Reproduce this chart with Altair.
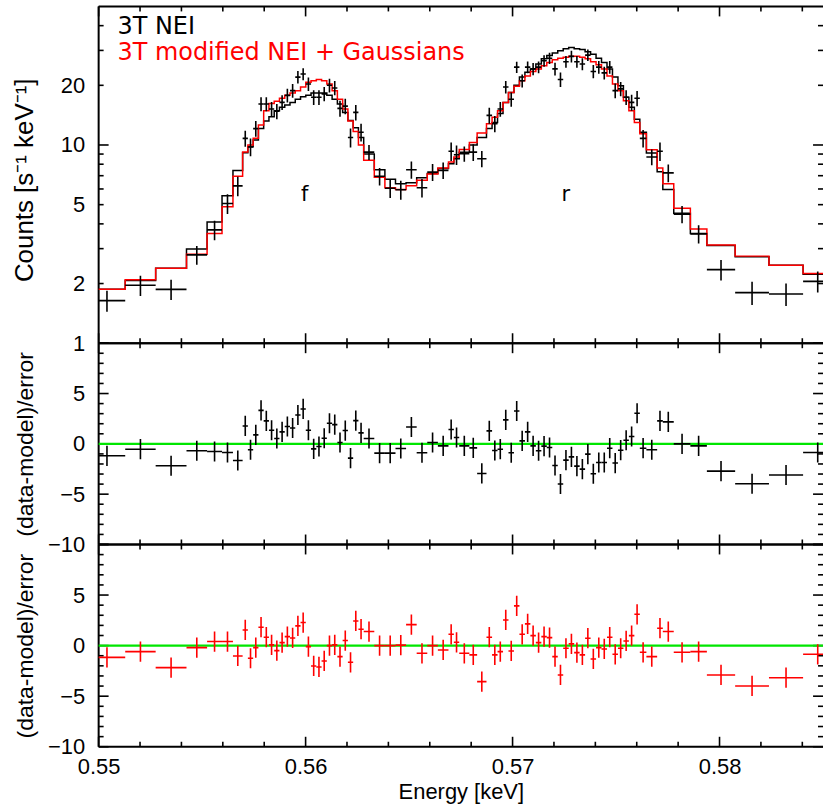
import altair as alt
import pandas as pd

# ---------------- data ----------------
# bin edges in keV (81 bins)
edges = [0.54952, 0.551284, 0.552755, 0.554245, 0.55524, 0.555962, 0.55649,
         0.556957, 0.557211, 0.557466, 0.55772, 0.557974, 0.558229, 0.558483, 0.558737,
         0.558992, 0.559246, 0.5595, 0.559755, 0.560009, 0.560263, 0.560518, 0.560772,
         0.561026, 0.561281, 0.561535, 0.561789, 0.562044, 0.562298, 0.562552, 0.562807,
         0.563319, 0.563831, 0.564343, 0.564855, 0.565367, 0.565879, 0.566391, 0.566903,
         0.567163, 0.567423, 0.567913, 0.568288, 0.56874, 0.56901,
         0.569274, 0.569539, 0.569803, 0.570068, 0.570332, 0.570597, 0.570861, 0.571125,
         0.57139, 0.571654, 0.571919, 0.572183, 0.572447, 0.572712, 0.572976, 0.573241,
         0.573505, 0.57377, 0.574034, 0.574298, 0.574563, 0.574827, 0.575092, 0.575356,
         0.57562, 0.575885, 0.576149,
         0.576466, 0.576986, 0.57726, 0.577788, 0.578591, 0.579389, 0.580755, 0.582389,
         0.584038, 0.585452]

counts = [1.64, 1.96, 1.87, 2.79, 3.73, 5.07, 6.22,
          10.8, 9.77, 12.1, 16.1, 16.1, 15.2, 14.8, 16.4, 17.8, 18.8, 22.0, 22.8,
          20.3, 17.4, 17.4, 18.1, 20.0, 19.4, 15.3, 15.7, 10.9, 14.6, 11.6,
          9.2, 6.95, 6.05, 5.95, 7.5, 6.08, 7.3, 7.45,
          9.3, 8.93, 9.03, 9.2, 8.53, 14.1,
          12.8, 15.2, 19.6, 17.0, 24.7, 21.1, 24.7, 24.2, 24.7, 26.6,
          27.4, 24.2, 21.4, 26.3, 28.0, 26.3, 25.6, 28.4, 23.5, 24.7,
          23.1, 24.7, 18.8, 19.2, 17.4, 16.4, 17.2,
          10.8, 8.7, 9.3, 7.23, 4.48, 3.56, 2.35, 1.80, 1.77, 2.05]

count_err = [0.20, 0.23, 0.22, 0.30, 0.42, 0.58, 0.70,
             1.0, 1.0, 1.1, 1.3, 1.3, 1.3, 1.3, 1.4, 1.4, 1.5, 1.6, 1.6,
             1.6, 1.5, 1.5, 1.5, 1.6, 1.6, 1.4, 1.4, 1.2, 1.3, 1.2,
             0.8, 0.7, 0.65, 0.65, 0.75, 0.65, 0.72, 0.72,
             1.0, 1.0, 0.8, 0.9, 0.8, 1.3,
             1.2, 1.3, 1.4, 1.4, 1.6, 1.6, 1.7, 1.7, 1.7, 1.8,
             1.8, 1.8, 1.8, 1.8, 1.9, 1.8, 1.8, 1.9, 1.8, 1.8,
             1.7, 1.8, 1.6, 1.6, 1.5, 1.5, 1.5,
             1.1, 0.8, 1.0, 0.75, 0.45, 0.38, 0.28, 0.24, 0.23, 0.25]

model_nei = [1.87, 2.07, 2.39, 2.99, 4.09, 5.55, 7.43,
             9.14, 9.8, 10.6, 12.1, 13.2, 13.9, 14.9, 15.5, 15.9, 16.4, 17.0, 17.5,
             17.8, 18.3, 18.3, 18.3, 17.8, 17.0, 16.1, 14.6, 13.3, 12.2, 10.9,
             9.0, 7.5, 6.71, 6.38, 6.45, 6.83, 7.18, 7.6,
             8.05, 8.53, 9.2, 10.0, 10.9, 12.1,
             13.0, 14.4, 16.4, 18.4, 20.0, 22.0, 23.3, 24.2, 25.6, 27.2,
             28.3, 29.1, 29.9, 30.6, 31.0, 30.6, 30.3, 29.5, 28.7, 27.4,
             26.1, 24.2, 22.0, 19.9, 17.4, 15.5, 13.5,
             11.6, 9.1, 7.32, 5.96, 4.52, 3.58, 3.11, 2.73, 2.47, 2.23]

model_mod = [1.87, 2.09, 2.39, 2.81, 3.58, 4.88, 6.96,
             9.22, 10.0, 10.8, 12.6, 14.9, 16.2, 16.6, 17.2, 17.8, 18.3, 18.8, 19.6,
             20.7, 21.1, 21.4, 21.1, 20.3, 18.8, 17.0, 15.2, 13.2, 11.7, 10.0,
             8.37, 6.88, 6.08, 5.96, 6.22, 6.64, 7.13, 7.65,
             8.2, 8.7, 9.5, 10.3, 11.5, 12.8,
             13.8, 14.9, 16.4, 18.4, 19.8, 21.1, 22.3, 23.5, 24.2, 25.1,
             26.1, 26.9, 27.4, 27.7, 28.0, 28.0, 27.7, 27.2, 26.3, 25.4,
             24.2, 22.3, 20.3, 18.8, 16.7, 14.9, 13.0,
             11.4, 9.46, 7.66, 6.37, 4.79, 3.77, 3.13, 2.75, 2.47, 2.25]

resid_nei = [-1.19, -0.53, -2.18, -0.69, -0.76, -0.86, -1.65,
             1.78, -0.59, 0.89, 3.33, 2.28, 1.35, 0.53, 1.19, 1.72, 1.58, 2.87, 3.47,
             1.35, -0.5, -0.26, 0.56, 2.05, 1.91, 0.13, 1.32, -1.42, 2.31, 1.09,
             0.53, -0.92, -0.92, -0.46, 1.68, -0.89, 0.13, -0.2,
             1.42, 0.63, -0.2, -0.4, -2.94, 1.29,
             -0.66, -0.53, 2.38, -0.89, 3.27, 0.3, 1.19, -0.2, -0.69, -0.23,
             -0.36, -2.15, -3.99, -1.62, -1.29, -2.21, -2.51, -1.02, -2.97, -1.85,
             -1.85, -0.43, -1.91, -0.63, 0.36, 0.73, 3.04,
             -0.43, -0.59, 2.28, 2.18, 0.0, -0.2, -2.71, -3.96, -3.1, -0.86]

resid_mod = [-1.16, -0.59, -2.18, -0.2, 0.4, 0.4, -1.02,
             1.55, -1.25, -0.2, 1.82, 0.83, 0.07, -0.5, 0.3, 0.89, 0.76, 1.95, 2.28,
             -0.1, -2.01, -2.11, -1.52, 0.0, 0.07, -1.09, 0.5, -1.65, 2.44, 1.62,
             1.39, 0.0, 0.0, 0.05, 2.08, -0.76, 0.0, -0.43,
             1.12, 0.33, -0.76, -0.92, -3.56, 0.83,
             -0.92, -0.59, 2.54, -0.53, 3.93, 1.12, 2.15, 0.99, 0.3, 0.89,
             0.79, -1.09, -2.9, -0.26, 0.17, -0.69, -0.92, 0.73, -1.32, -0.2,
             -0.33, 0.83, -0.86, -0.26, 0.46, 0.99, 3.1,
             -0.66, -1.09, 1.72, 1.39, -0.66, -0.59, -2.9, -3.99, -3.17, -0.86]

legend_text = ["3T NEI", "3T modified NEI + Gaussians"]
legend_color = ["#000000", "#ff0000"]
line_names = ["f", "r"]
line_energy = [0.55995, 0.57257]
line_level = [5.2, 5.2]

x_major = [0.55, 0.56, 0.57, 0.58]
x_minor = [0.552, 0.554, 0.556, 0.558, 0.562, 0.564, 0.566, 0.568,
           0.572, 0.574, 0.576, 0.578, 0.582, 0.584]
x_labels = [0.55, 0.56, 0.57, 0.58]
top_major = [1, 10]
top_minor = [2, 3, 4, 5, 6, 7, 8, 9, 20, 30, 40]
top_labels = [1, 2, 5, 10, 20]
res_major = [-10, -5, 0, 5, 10]
res_minor = [-9, -8, -7, -6, -4, -3, -2, -1, 1, 2, 3, 4, 6, 7, 8, 9]
res_labels = [-10, -5, 0, 5]

# ---------------- layout / style ----------------
W = 727
H_TOP, H_MID, H_BOT = 338, 202, 203
FONT = "Liberation Sans"
BLACK = "#000000"
RED = "#ff0000"
GREEN = "#00e600"

xscale = alt.Scale(domain=[0.55, 0.585], nice=False, zero=False)
ytop_scale = alt.Scale(type="log", domain=[1, 50], nice=False)
yres_scale = alt.Scale(domain=[-10, 10], nice=False, zero=False)


def y_axis(values, fmt, title, H, tsize, ty):
    return alt.Axis(values=values, format=fmt, title=title, ticks=False, tickSize=0,
                    domain=False, grid=False, labelPadding=14, labelFont=FONT,
                    labelFontSize=22, labelColor=BLACK, labelOverlap=False,
                    titleFont=FONT, titleFontSize=tsize, titleFontWeight="normal",
                    titleColor=BLACK, titleAngle=270, titleAlign="center",
                    titleBaseline="alphabetic", titleX=-66, titleY=ty)


ytop_axis = y_axis(top_labels, "~g", "Counts [s\u207b\u00b9 keV\u207b\u00b9]", H_TOP, 26, H_TOP / 2 + 5)
ymid_axis = y_axis(res_labels, "d", "(data-model)/error", H_MID, 23, H_MID / 2)
ybot_axis = y_axis(res_labels, "d", "(data-model)/error", H_BOT, 23, H_BOT / 2)

xbot_axis = alt.Axis(values=x_labels, format=".2f", title="Energy [keV]", ticks=False,
                     tickSize=0, domain=False, grid=False, labelFlush=False,
                     labelPadding=27, labelBaseline="alphabetic", labelFont=FONT,
                     labelFontSize=22, labelColor=BLACK, labelOverlap=False,
                     titleFont=FONT, titleFontSize=22, titleFontWeight="normal",
                     titleColor=BLACK, titleX=W / 2, titleY=52, titleAlign="center",
                     titleBaseline="alphabetic")

# ---------------- tables ----------------
lo = edges[:-1]
hi = edges[1:]
bins = pd.DataFrame({
    "lo": lo, "hi": hi,
    "mid": [(a + b) / 2 for a, b in zip(lo, hi)],
    "cnt": counts, "err": count_err,
    "rn": resid_nei, "rm": resid_mod,
})
bins["cnt_lo"] = bins["cnt"] - bins["err"]
bins["cnt_hi"] = bins["cnt"] + bins["err"]
bins["rn_lo"] = bins["rn"] - 1
bins["rn_hi"] = bins["rn"] + 1
bins["rm_lo"] = bins["rm"] - 1
bins["rm_hi"] = bins["rm"] + 1

step_rows = []
for i in range(len(lo)):
    for j, e in enumerate((lo[i], hi[i])):
        step_rows.append({"E": e, "nei": model_nei[i], "mod": model_mod[i], "k": 2 * i + j})
steps = pd.DataFrame(step_rows)

one = pd.DataFrame({"a": [0]})
zero = pd.DataFrame({"z": [0]})


def XE(field, axis):
    return alt.X(field, type="quantitative", scale=xscale, axis=axis)


def frame_layers(H, xaxis, yscale, yaxis, ymajor, yminor):
    layers = []
    for vals, L in ((x_major, 10), (x_minor, 5)):
        base = alt.Chart(pd.DataFrame({"t": vals})).mark_rule(color=BLACK, strokeWidth=1.6)
        layers.append(base.encode(x=XE("t", xaxis), y=alt.value(H - L), y2=alt.value(H)))
        layers.append(base.encode(x=XE("t", xaxis), y=alt.value(0), y2=alt.value(L)))
    for vals, L in ((ymajor, 10), (yminor, 5)):
        base = alt.Chart(pd.DataFrame({"t": vals})).mark_rule(color=BLACK, strokeWidth=1.6)
        yy = alt.Y("t", type="quantitative", scale=yscale, axis=yaxis)
        layers.append(base.encode(y=yy, x=alt.value(0), x2=alt.value(L)))
        layers.append(base.encode(y=yy, x=alt.value(W - L), x2=alt.value(W)))
    fr = alt.Chart(one).mark_rule(color=BLACK, strokeWidth=2)
    layers.append(fr.encode(x=alt.value(0), y=alt.value(0), y2=alt.value(H)))
    layers.append(fr.encode(x=alt.value(0), x2=alt.value(W), y=alt.value(0)))
    layers.append(fr.encode(x=alt.value(0), x2=alt.value(W), y=alt.value(H)))
    return layers


# ---------------- top panel ----------------
def YT(field):
    return alt.Y(field, type="quantitative", scale=ytop_scale, axis=ytop_axis)


top_layers = frame_layers(H_TOP, None, ytop_scale, ytop_axis, top_major, top_minor)
top_layers.append(alt.Chart(steps).mark_line(color=BLACK, strokeWidth=1.5, clip=True).encode(
    x=XE("E", None), y=YT("nei"), order=alt.Order("k:Q")))
top_layers.append(alt.Chart(steps).mark_line(color=RED, strokeWidth=1.5, clip=True).encode(
    x=XE("E", None), y=YT("mod"), order=alt.Order("k:Q")))
top_layers.append(alt.Chart(bins).mark_rule(color=BLACK, strokeWidth=1.6, clip=True).encode(
    x=XE("lo", None), x2="hi", y=YT("cnt")))
top_layers.append(alt.Chart(bins).mark_rule(color=BLACK, strokeWidth=1.6, clip=True).encode(
    x=XE("mid", None), y=YT("cnt_lo"), y2="cnt_hi"))
for txt, col, yy in zip(legend_text, legend_color, (28, 54)):
    top_layers.append(alt.Chart(pd.DataFrame({"t": [txt]})).mark_text(
        align="left", baseline="alphabetic", font="DejaVu Sans", fontSize=24, color=col).encode(
        text="t:N", x=alt.value(19), y=alt.value(yy)))
top_layers.append(alt.Chart(pd.DataFrame({"n": line_names, "E": line_energy, "lv": line_level}))
                  .mark_text(align="center", baseline="alphabetic", font="DejaVu Sans",
                             fontSize=21, color=BLACK)
                  .encode(text="n:N", x=XE("E", None), y=YT("lv")))
top = alt.layer(*top_layers).properties(width=W, height=H_TOP)


# ---------------- residual panels ----------------
def resid_panel(H, xaxis, yaxis, col, rfield):
    def YR(field):
        return alt.Y(field, type="quantitative", scale=yres_scale, axis=yaxis)
    layers = frame_layers(H, xaxis, yres_scale, yaxis, res_major, res_minor)
    layers.append(alt.Chart(zero).mark_rule(color=GREEN, strokeWidth=2.2).encode(
        y=YR("z"), x=alt.value(0), x2=alt.value(W)))
    layers.append(alt.Chart(bins).mark_rule(color=col, strokeWidth=1.6, clip=True).encode(
        x=XE("lo", xaxis), x2="hi", y=YR(rfield)))
    layers.append(alt.Chart(bins).mark_rule(color=col, strokeWidth=1.6, clip=True).encode(
        x=XE("mid", xaxis), y=YR(rfield + "_lo"), y2=rfield + "_hi"))
    return alt.layer(*layers).properties(width=W, height=H)


mid = resid_panel(H_MID, None, ymid_axis, BLACK, "rn")
bot = resid_panel(H_BOT, xbot_axis, ybot_axis, RED, "rm")

chart = (
    alt.vconcat(top, mid, bot, spacing=0, bounds="flush",
                padding={"left": 12, "top": 4, "right": 0, "bottom": 0})
    .resolve_scale(x="independent", y="independent")
    .configure(font=FONT, background="white")
    .configure_view(stroke=None)
)

chart.save("out.html", embed_options={"renderer": "svg", "actions": False})
